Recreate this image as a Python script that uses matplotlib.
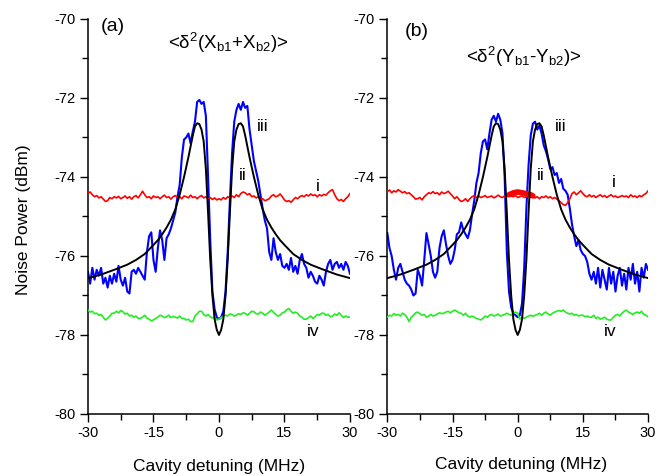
"""Cavity detuning noise spectra, two quadrature combinations."""

import matplotlib

matplotlib.use("Agg")
import matplotlib.pyplot as plt
import numpy as np
from matplotlib.ticker import MultipleLocator

plt.rcParams["font.family"] = ["Liberation Sans", "DejaVu Sans"]
plt.rcParams["mathtext.fontset"] = "custom"
plt.rcParams["mathtext.rm"] = "Liberation Sans"
plt.rcParams["mathtext.it"] = "Liberation Sans:italic"
plt.rcParams["mathtext.bf"] = "Liberation Sans:bold"
plt.rcParams["axes.unicode_minus"] = False

# detuning grid of the measured traces (MHz), 0.5 MHz per sample
detuning = np.arange(-30.0, 30.01, 0.5)

# (a) <d2(Xb1+Xb2)>
shot_noise_a = [  # i
    -74.42, -74.38, -74.45, -74.50, -74.47, -74.53, -74.50, -74.56, -74.62, -74.60,
    -74.52, -74.55, -74.50, -74.53, -74.49, -74.55, -74.52, -74.48, -74.54, -74.50,
    -74.56, -74.50, -74.47, -74.53, -74.45, -74.36, -74.45, -74.52, -74.50, -74.55,
    -74.48, -74.52, -74.50, -74.55, -74.50, -74.46, -74.52, -74.50, -74.56, -74.50,
    -74.47, -74.52, -74.50, -74.55, -74.48, -74.50, -74.53, -74.46, -74.52, -74.50,
    -74.55, -74.50, -74.47, -74.53, -74.50, -74.55, -74.52, -74.57, -74.53, -74.58,
    -74.55, -74.58, -74.52, -74.56, -74.50, -74.53, -74.48, -74.52, -74.45, -74.50,
    -74.42, -74.38, -74.40, -74.45, -74.42, -74.50, -74.48, -74.53, -74.50, -74.56,
    -74.55, -74.60, -74.58, -74.55, -74.48, -74.45, -74.50, -74.48, -74.43, -74.50,
    -74.58, -74.62, -74.60, -74.64, -74.58, -74.52, -74.55, -74.50, -74.47, -74.50,
    -74.45, -74.48, -74.43, -74.47, -74.45, -74.50, -74.45, -74.48, -74.44, -74.46,
    -74.40, -74.35, -74.32, -74.45, -74.55, -74.60, -74.57, -74.62, -74.55, -74.50,
    -74.42,
]
measured_a = [  # iii
    -76.40, -76.70, -76.30, -76.60, -76.35, -76.50, -76.30, -76.70, -76.55, -76.80,
    -76.50, -76.70, -76.45, -76.65, -76.25, -76.60, -76.75, -76.55, -76.90, -76.95,
    -76.40, -76.35, -76.45, -76.30, -76.40, -76.50, -76.60, -75.90, -75.50, -75.40,
    -76.10, -76.40, -75.80, -75.35, -75.60, -76.10, -75.55, -75.45, -75.30, -75.10,
    -74.90, -74.50, -74.20, -73.50, -73.05, -73.00, -72.90, -73.15, -72.85, -72.60,
    -72.10, -72.05, -72.15, -72.10, -72.45, -74.00, -75.60, -76.90, -77.35, -77.55,
    -77.60, -77.55, -77.40, -76.90, -75.90, -74.60, -73.40, -72.60, -72.30, -72.15,
    -72.30, -72.10, -72.25, -72.20, -72.80, -73.20, -73.60, -73.85, -74.10, -74.45,
    -74.80, -75.10, -75.30, -75.90, -76.10, -75.55, -75.90, -76.10, -75.95, -76.25,
    -76.30, -76.20, -76.35, -76.05, -76.40, -76.25, -76.45, -76.10, -75.95, -76.20,
    -76.30, -76.55, -76.40, -76.50, -76.65, -76.70, -76.50, -76.60, -76.75, -76.40,
    -76.20, -76.10, -76.35, -76.20, -76.15, -76.30, -76.20, -76.35, -76.15, -76.25,
    -76.45,
]
vacuum_a = [  # iv
    -77.37, -77.42, -77.40, -77.46, -77.45, -77.50, -77.48, -77.55, -77.62, -77.58,
    -77.52, -77.45, -77.45, -77.40, -77.44, -77.38, -77.41, -77.47, -77.45, -77.52,
    -77.50, -77.55, -77.52, -77.58, -77.58, -77.55, -77.50, -77.57, -77.60, -77.64,
    -77.62, -77.58, -77.55, -77.50, -77.52, -77.56, -77.54, -77.50, -77.56, -77.53,
    -77.55, -77.57, -77.52, -77.58, -77.58, -77.62, -77.60, -77.66, -77.66, -77.52,
    -77.47, -77.40, -77.40, -77.48, -77.52, -77.48, -77.54, -77.57, -77.55, -77.62,
    -77.60, -77.56, -77.52, -77.50, -77.52, -77.47, -77.48, -77.52, -77.50, -77.46,
    -77.48, -77.44, -77.45, -77.50, -77.45, -77.40, -77.41, -77.46, -77.47, -77.42,
    -77.45, -77.50, -77.46, -77.42, -77.37, -77.43, -77.48, -77.52, -77.50, -77.44,
    -77.42, -77.36, -77.33, -77.40, -77.45, -77.42, -77.45, -77.52, -77.55, -77.60,
    -77.60, -77.56, -77.52, -77.58, -77.54, -77.48, -77.50, -77.45, -77.45, -77.50,
    -77.48, -77.54, -77.52, -77.47, -77.50, -77.44, -77.50, -77.56, -77.52, -77.55,
    -77.55,
]

# (b) <d2(Yb1-Yb2)>
shot_noise_b = [  # i
    -74.37, -74.33, -74.40, -74.35, -74.38, -74.32, -74.36, -74.40, -74.37, -74.42,
    -74.40, -74.45, -74.50, -74.56, -74.55, -74.52, -74.58, -74.50, -74.45, -74.40,
    -74.42, -74.37, -74.42, -74.40, -74.45, -74.38, -74.42, -74.40, -74.36, -74.42,
    -74.48, -74.55, -74.50, -74.57, -74.62, -74.60, -74.55, -74.62, -74.55, -74.50,
    -74.47, -74.52, -74.48, -74.52, -74.50, -74.47, -74.52, -74.50, -74.48, -74.53,
    -74.50, -74.46, -74.50, -74.52, -74.48, -74.50, -74.45, -74.48, -74.50, -74.47,
    -74.52, -74.50, -74.48, -74.52, -74.50, -74.47, -74.52, -74.50, -74.53, -74.50,
    -74.55, -74.50, -74.52, -74.48, -74.53, -74.50, -74.55, -74.52, -74.56, -74.60,
    -74.65, -74.70, -74.72, -74.65, -74.55, -74.42, -74.38, -74.45, -74.40, -74.35,
    -74.42, -74.48, -74.50, -74.45, -74.50, -74.47, -74.52, -74.48, -74.45, -74.50,
    -74.47, -74.52, -74.48, -74.45, -74.50, -74.48, -74.52, -74.50, -74.47, -74.50,
    -74.48, -74.52, -74.45, -74.50, -74.48, -74.52, -74.47, -74.50, -74.45, -74.42,
    -74.35,
]
# dense burst of the shot-noise trace near zero detuning in (b)
burst_detuning = [-2.0, -1.0, 0.0, 1.0, 2.0, 3.0, 3.5]
burst_dbm = [-74.45, -74.40, -74.38, -74.40, -74.42, -74.45, -74.48]
measured_b = [  # iii
    -75.42, -75.80, -76.00, -76.35, -76.60, -76.30, -76.20, -76.40, -76.60, -76.70,
    -76.75, -76.85, -77.00, -76.95, -76.35, -76.50, -76.75, -76.10, -75.42, -75.70,
    -76.00, -76.40, -76.55, -76.40, -75.80, -75.50, -75.35, -75.70, -76.00, -76.20,
    -76.10, -75.85, -75.45, -75.40, -75.15, -75.35, -75.45, -75.55, -75.35, -74.95,
    -74.60, -74.15, -73.90, -73.40, -73.10, -73.05, -73.30, -72.90, -72.55, -72.45,
    -72.60, -72.40, -72.55, -72.90, -74.00, -75.90, -76.90, -77.30, -77.45, -77.50,
    -77.55, -77.50, -77.20, -76.30, -74.80, -73.70, -72.95, -72.65, -72.60, -72.80,
    -72.70, -72.90, -73.20, -73.35, -73.55, -73.80, -73.75, -73.95, -73.90, -74.15,
    -74.05, -74.30, -74.35, -74.45, -74.80, -75.20, -75.50, -75.75, -75.60, -75.85,
    -75.95, -76.00, -76.15, -76.45, -76.60, -76.40, -76.70, -76.30, -76.80, -76.35,
    -76.60, -76.85, -76.30, -76.70, -76.40, -76.90, -76.50, -76.30, -76.75, -76.45,
    -76.85, -76.30, -76.60, -76.20, -76.70, -76.40, -76.90, -76.30, -76.55, -76.20,
    -76.35,
]
vacuum_b = [  # iv
    -77.54, -77.50, -77.52, -77.46, -77.50, -77.48, -77.52, -77.45, -77.48, -77.55,
    -77.66, -77.55, -77.50, -77.44, -77.42, -77.46, -77.50, -77.48, -77.55, -77.52,
    -77.48, -77.52, -77.50, -77.47, -77.44, -77.46, -77.45, -77.42, -77.40, -77.44,
    -77.40, -77.37, -77.40, -77.44, -77.45, -77.50, -77.45, -77.52, -77.55, -77.52,
    -77.55, -77.58, -77.60, -77.62, -77.58, -77.52, -77.55, -77.50, -77.48, -77.52,
    -77.50, -77.47, -77.52, -77.50, -77.48, -77.45, -77.48, -77.50, -77.45, -77.42,
    -77.45, -77.60, -77.55, -77.58, -77.55, -77.52, -77.50, -77.53, -77.50, -77.48,
    -77.45, -77.50, -77.45, -77.42, -77.47, -77.50, -77.45, -77.42, -77.40, -77.38,
    -77.40, -77.37, -77.42, -77.45, -77.47, -77.45, -77.50, -77.48, -77.52, -77.50,
    -77.50, -77.54, -77.52, -77.55, -77.55, -77.50, -77.58, -77.55, -77.60, -77.58,
    -77.55, -77.60, -77.62, -77.62, -77.55, -77.50, -77.48, -77.52, -77.45, -77.40,
    -77.37, -77.42, -77.45, -77.48, -77.44, -77.42, -77.45, -77.40, -77.48, -77.50,
    -77.54,
]

# theoretical curve (ii), same in both panels
fit_detuning = [
    -30, -27, -24, -21, -19, -17, -15, -14, -13, -12, -11, -10, -9, -8, -7, -6,
    -5.5, -5, -4.5, -4, -3.5, -3, -2.5, -2, -1.5, -1, -0.5, 0,
    0.5, 1, 1.5, 2, 2.5, 3, 3.5, 4, 4.5, 5, 5.5, 6, 7, 8, 9, 10, 11, 12, 13,
    14, 15, 17, 19, 21, 24, 27, 30,
]
fit_dbm = [
    -76.56, -76.47, -76.35, -76.22, -76.10, -75.95, -75.72, -75.60, -75.45,
    -75.28, -75.08, -74.82, -74.45, -74.00, -73.50, -72.95, -72.72, -72.64,
    -72.66, -72.80, -73.10, -73.80, -74.90, -76.10, -77.00, -77.60, -77.87,
    -78.00,
    -77.87, -77.60, -77.00, -76.10, -74.90, -73.80, -73.10, -72.80, -72.66,
    -72.64, -72.72, -72.95, -73.50, -74.00, -74.45, -74.82, -75.08, -75.28,
    -75.45, -75.60, -75.72, -75.95, -76.10, -76.22, -76.35, -76.47, -76.56,
]

fig = plt.figure(figsize=(6.67, 4.76), dpi=100)
ax_a = fig.add_axes([0.1319, 0.1303, 0.3928, 0.8298])
ax_b = fig.add_axes([0.5807, 0.1303, 0.3909, 0.8298])


def _draw_panel(ax, shot, measured, vacuum):
    ax.plot(detuning, measured, color="#0000ff", lw=1.5, zorder=2)
    ax.plot(detuning, shot, color="#ff0000", lw=1.2, zorder=3)
    ax.plot(detuning, vacuum, color="#22ee22", lw=1.2, zorder=3)
    ax.plot(fit_detuning, fit_dbm, color="black", lw=1.4, zorder=4)

    ax.set_xlim(-30, 30)
    ax.set_ylim(-80, -70)
    ax.set_xticks([-30, -15, 0, 15, 30])
    ax.set_yticks([-80, -78, -76, -74, -72, -70])
    ax.xaxis.set_minor_locator(MultipleLocator(7.5))
    ax.yaxis.set_minor_locator(MultipleLocator(1))
    ax.tick_params(which="major", direction="out", length=6, width=1.0,
                   labelsize=10.5, pad=3)
    ax.tick_params(which="minor", direction="out", length=4, width=1.0)
    for side in ("top", "right"):
        ax.spines[side].set_visible(False)
    for side in ("left", "bottom"):
        ax.spines[side].set_linewidth(1.1)


_draw_panel(ax_a, shot_noise_a, measured_a, vacuum_a)
_draw_panel(ax_b, shot_noise_b, measured_b, vacuum_b)
ax_b.plot(burst_detuning, burst_dbm, color="#ff0000", lw=4, zorder=3,
          solid_capstyle="round")

# panel tags and titles
ax_a.text(-27.0, -70.19, "(a)", fontsize=14, ha="left", va="center")
ax_b.text(-25.9, -70.32, "(b)", fontsize=14, ha="left", va="center")
ax_a.text(2.2, -70.6, r"<δ$^{2}$(X$_{\mathrm{b1}}$+X$_{\mathrm{b2}}$)>",
          fontsize=13.5, ha="center", va="center")
ax_b.text(1.45, -70.96, r"<δ$^{2}$(Y$_{\mathrm{b1}}$-Y$_{\mathrm{b2}}$)>",
          fontsize=13.5, ha="center", va="center")

# trace labels
for ax, spots in (
    (ax_a, [("i", 22.6, -74.23), ("ii", 5.5, -73.97),
            ("iii", 9.96, -72.73), ("iv", 21.5, -77.9)]),
    (ax_b, [("i", 22.1, -74.15), ("ii", 5.35, -73.97),
            ("iii", 10.0, -72.73), ("iv", 21.2, -77.9)]),
):
    for label, x, y in spots:
        ax.text(x, y, label, fontsize=12.5, ha="center", va="center")

fig.text(23.5 / 667, 1 - 220 / 476, "Noise Power (dBm)", rotation=90,
         fontsize=12.5, ha="center", va="center")
fig.text(219.2 / 667, 1 - 467 / 476, "Cavity detuning (MHz)",
         fontsize=12.5, ha="center", va="center")
fig.text(521.5 / 667, 1 - 464 / 476, "Cavity detuning (MHz)",
         fontsize=12.5, ha="center", va="center")

fig.savefig("out.png", dpi=100)
plt.close(fig)
